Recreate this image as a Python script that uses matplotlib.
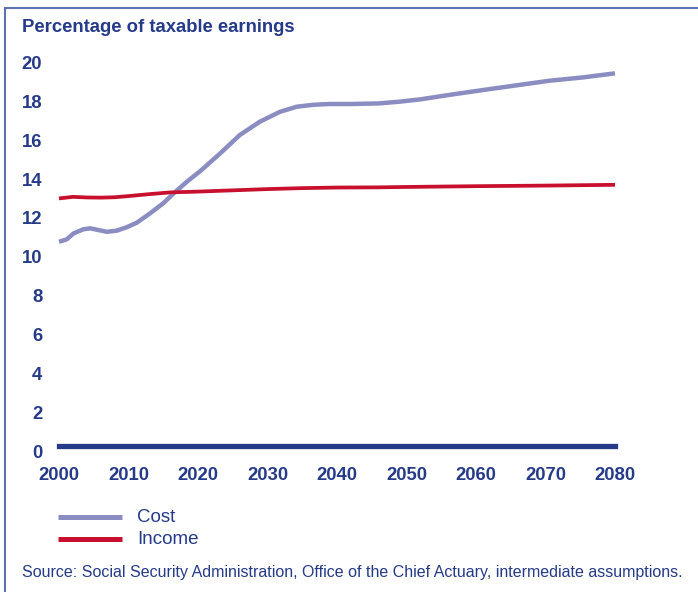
import matplotlib
matplotlib.use("Agg")
import matplotlib.pyplot as plt
import matplotlib.transforms as mtransforms
from matplotlib.lines import Line2D

# Social Security cost and income rates, percent of taxable earnings
cost_years = [2000, 2001.1, 2002.1, 2003.5, 2004.5, 2005.7, 2006.9, 2008.3, 2009.7,
              2011.2, 2013.1, 2015.0, 2016.5, 2018.4, 2020.3, 2023.2, 2026, 2028.9,
              2031.8, 2034.2, 2036.6, 2039, 2042, 2046, 2049, 2052, 2056, 2061,
              2066, 2070.6, 2075.4, 2080]
cost = [10.49, 10.61, 10.92, 11.13, 11.18, 11.09, 11.00, 11.06, 11.23,
        11.47, 11.95, 12.47, 12.98, 13.58, 14.12, 15.04, 15.98, 16.67,
        17.18, 17.44, 17.54, 17.58, 17.58, 17.61, 17.70, 17.82, 18.04, 18.30,
        18.55, 18.78, 18.95, 19.16]

income_years = [2000, 2002, 2004, 2006, 2008, 2010, 2013, 2016, 2020, 2023,
                2030, 2035, 2040, 2046, 2050, 2060, 2070, 2080]
income = [12.72, 12.80, 12.77, 12.76, 12.78, 12.84, 12.94, 13.03, 13.07, 13.11,
          13.20, 13.25, 13.28, 13.29, 13.31, 13.35, 13.38, 13.42]

x_ticks = [2000, 2010, 2020, 2030, 2040, 2050, 2060, 2070, 2080]
y_ticks = [0, 2, 4, 6, 8, 10, 12, 14, 16, 18, 20]

title = "Percentage of taxable earnings"
source = ("Source: Social Security Administration, Office of the Chief Actuary, "
          "intermediate assumptions.")

NAVY = "#253a88"
LAVENDER = "#8b8dc2"
CRIMSON = "#c8102e"
FRAME = "#5d70b0"

W, H, DPI = 698, 592, 100
fig = plt.figure(figsize=(W / DPI, H / DPI), dpi=DPI)
plt.rcParams["font.family"] = ["Liberation Sans", "DejaVu Sans"]


def fx(px):
    return px / W


def fy(py):
    return 1 - py / H


# plot area: 2000..2080 horizontally, 0..20 vertically
left, right, top, bottom = 59, 615, 57, 445.5
ax = fig.add_axes([fx(left), fy(bottom), (right - left) / W, (bottom - top) / H])
ax.set_xlim(2000, 2080)
ax.set_ylim(0, 20)
for s in ax.spines.values():
    s.set_visible(False)

ax.plot(cost_years, cost, color=LAVENDER, lw=3.2, clip_on=False,
        solid_capstyle="butt", solid_joinstyle="round")
ax.plot(income_years, income, color=CRIMSON, lw=2.7, clip_on=False,
        solid_capstyle="butt", solid_joinstyle="round")
ax.plot([2000, 2080], [0, 0], color=NAVY, lw=3.8, clip_on=False,
        solid_capstyle="projecting")

ax.set_xticks(x_ticks)
ax.set_xticklabels([str(v) for v in x_ticks])
ax.set_yticks(y_ticks)
ax.set_yticklabels([str(v) for v in y_ticks])
ax.tick_params(length=0, labelsize=13.3, labelcolor=NAVY)
ax.tick_params(axis="x", pad=15.5)
ax.tick_params(axis="y", pad=12)
for lab in ax.get_xticklabels() + ax.get_yticklabels():
    lab.set_fontweight("bold")
shift = mtransforms.ScaledTranslation(0, -5.5 / DPI, fig.dpi_scale_trans)
for lab in ax.get_yticklabels():
    lab.set_transform(lab.get_transform() + shift)

# title
fig.text(fx(22), fy(28), title, fontsize=13.3, fontweight="bold",
         color=NAVY, ha="left", va="center")

# legend
for ypx, col, name in [(517, LAVENDER, "Cost"), (539, CRIMSON, "Income")]:
    fig.add_artist(Line2D([fx(58), fx(122)], [fy(ypx), fy(ypx)], color=col,
                          lw=3.6, solid_capstyle="butt"))
    fig.text(fx(137), fy(ypx), name, fontsize=13.5, color=NAVY,
             ha="left", va="center")

# source note
fig.text(fx(22), fy(573), source, fontsize=11.5, color=NAVY,
         ha="left", va="center")

# frame
fig.add_artist(Line2D([fx(5), fx(5)], [fy(8), fy(H + 5)], color=FRAME, lw=1.5))
fig.add_artist(Line2D([fx(5), fx(W + 5)], [fy(8), fy(8)], color=FRAME, lw=1.5))

fig.savefig("out.png", dpi=DPI)
